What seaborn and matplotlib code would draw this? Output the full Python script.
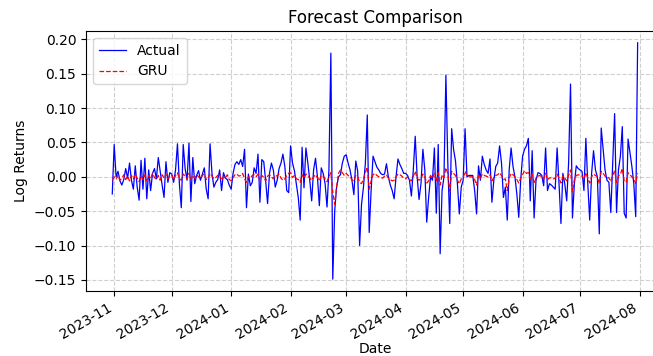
import pandas as pd
import matplotlib
matplotlib.use("Agg")
import matplotlib.pyplot as plt
import matplotlib.dates as mdates
import seaborn as sns

# ============================
# DATOS (log returns, en milésimas)
# ============================
start_date = "2023-10-31"
end_date = "2024-07-31"

actual_oct = [-25]
actual_nov = [47, 0, 8, -6, -12, -4, 12, -2, 20, -5, -18, 16, -15, -34, 24,
              -18, 27, -32, 10, -20, 5, 12, -3, 28, 8, -12, -30, 22, -8, 6]
actual_dec = [4, -8, 10, 48, -10, -45, 47, 12, -5, 49, -36, 28, -10, 2, 9,
              -5, 4, 13, -18, -32, 48, 5, -15, -8, -4, 10, -20, 6, -2, -4, -12]
actual_jan = [-18, 5, 18, 22, 18, 25, 15, 40, -45, 4, -13, -8, 13, 5, 33,
              -37, 25, 22, -6, -39, 5, 20, 10, -15, -5, 12, 20, 33, 15, -20, -23]
actual_feb = [45, 20, 9, -10, -30, -63, 43, -16, 42, 20, -5, -35, 10, 27, 0,
              -42, 13, 5, -10, -44, 10, 180, -149, -50, -15, 0, 3, 20, 30]
actual_mar = [32, 20, 10, -5, -26, 23, 8, -100, -40, -15, 20, 90, -81, -20, 30,
              22, 14, 10, 5, 3, 4, 19, 0, -12, -20, -32, 0, 26, 18, 12, 5]
actual_apr = [5, 2, -5, -28, 10, 59, 0, -33, -10, 40, 10, -66, -30, 0, -5,
              42, -53, 47, -112, -20, 0, 148, 20, -68, 70, 40, 23, -10, -54, -15]
actual_may = [-5, 70, 0, 2, 2, 2, -20, -54, 16, -5, 30, 18, 10, 5, 26,
              -37, -5, 15, 20, 45, 20, -30, -15, -63, 10, 42, 15, 0, -25, -59, -5]
actual_jun = [30, 40, 45, 56, -35, 38, -60, -5, 6, 5, 2, -13, 42, -20, -10,
              -12, -15, -18, 42, -10, -68, 5, -10, -35, 20, 135, -60, -10, 16, 12]
actual_jul = [10, 8, -20, 56, -10, -63, 5, 38, 10, 0, -83, 71, 40, 10, -5,
              -8, -52, 20, 92, -52, 10, 30, 73, -53, -60, 55, 35, 15, -10, -58, 195]

gru_oct = [-5]
gru_nov = [0, -3, 2, -5, -2, 3, -4, 1, -6, 2, -3, 4, -2, -7, 1,
           -4, 3, -6, 2, -3, 5, -1, -4, 2, -5, 3, -2, 4, -3, 1]
gru_dec = [3, -4, 2, 6, -3, -5, 4, 1, -3, 5, -4, 2, -2, 3, 0,
           -3, 2, 4, -4, -2, 5, 1, -3, -1, 2, 4, -5, 0, -2, 3, -4]
gru_jan = [-6, -1, 3, 4, 1, 2, 5, -3, -8, 0, -2, 2, 3, 0, 4,
           -5, 2, -1, -6, 1, 3, 0, -3, 2, 1, 4, -2, -5, -3, 2, 5]
gru_feb = [6, -1, 2, -3, -4, -8, 3, -2, 4, 1, -2, -5, 0, 3, -1,
           -6, 2, 1, -3, -7, 0, 6, -22, -40, -15, 5, 10, 6, 2]
gru_mar = [5, 2, 0, -4, -6, 2, 0, -8, -10, -3, 6, 14, -18, -6, 3,
           5, 2, 0, -1, -2, 1, 3, -2, -4, -6, -5, 0, 4, 3, 1, -2]
gru_apr = [-3, 0, -4, -6, 1, 8, -2, -5, -3, 4, 0, -9, -6, 2, -2,
           5, -7, 6, -12, 3, -1, 13, 5, -22, 8, 5, 2, -5, -10, -3]
gru_may = [-2, 8, 1, 0, 0, 0, -4, -12, 2, -2, 4, 2, 1, 0, 3,
           -6, -1, 2, 3, 6, 2, -4, -3, -20, -2, 5, 3, 0, -4, -9, -2]
gru_jun = [3, 9, 5, 6, -3, 4, -10, -2, 1, 2, 0, -3, 5, -4, -2,
           -1, -3, -2, 4, -2, -9, 1, -2, -6, 2, 10, -22, -4, 2, 3]
gru_jul = [2, 1, -4, 6, -2, -9, 0, 4, 2, 0, -10, 8, 5, 1, -2,
           -1, -7, 2, 9, -8, 1, 4, 12, -6, -8, 6, 3, 0, -3, -10, 5]

actual = (actual_oct + actual_nov + actual_dec + actual_jan + actual_feb
          + actual_mar + actual_apr + actual_may + actual_jun + actual_jul)
gru = (gru_oct + gru_nov + gru_dec + gru_jan + gru_feb
       + gru_mar + gru_apr + gru_may + gru_jun + gru_jul)

df = pd.DataFrame({
    "Date": pd.date_range(start_date, end_date, freq="D"),
    "Actual": [v / 1000 for v in actual],
    "GRU": [v / 1000 for v in gru],
})

# ============================
# GRÁFICO
# ============================
fig = plt.figure(figsize=(6.53, 3.56), dpi=100)
# el eje se sale un poco por la derecha, igual que en la imagen original
ax = fig.add_axes([0.1317, 0.1826, 0.885, 0.7303])

sns.lineplot(data=df, x="Date", y="Actual", ax=ax, color="blue",
             linewidth=0.9, label="Actual")
sns.lineplot(data=df, x="Date", y="GRU", ax=ax, color="red",
             linewidth=0.9, linestyle="--", label="GRU")

ax.xaxis.set_major_locator(mdates.MonthLocator())
ax.xaxis.set_major_formatter(mdates.DateFormatter("%Y-%m"))
plt.setp(ax.get_xticklabels(), rotation=30, ha="right")

ax.set_title("Forecast Comparison")
ax.set_xlabel("Date", labelpad=0.5)
ax.set_ylabel("Log Returns")
ax.grid(True, linestyle="--", alpha=0.6)
ax.legend(loc="upper left")

fig.savefig("out.png", dpi=100)
plt.close()
